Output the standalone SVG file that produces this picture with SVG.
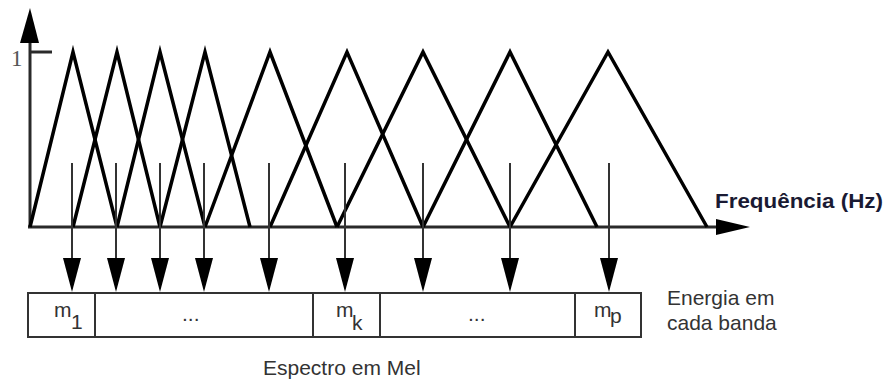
<svg xmlns="http://www.w3.org/2000/svg" width="887" height="382" viewBox="0 0 887 382">
  <style>
    .axis { stroke: #2a2a2a; stroke-width: 3; fill: none; }
    .tri { stroke: #000; stroke-width: 3.5; fill: none; stroke-linejoin: miter; stroke-miterlimit: 10; }
    .arrow { stroke: #333; stroke-width: 2; fill: none; }
    .cell { stroke: #333; stroke-width: 2; fill: #fff; }
    .lbl { font-family: "Liberation Sans", Arial, sans-serif; font-size: 21px; fill: #333; }
    .freq { font-family: "Liberation Sans", Arial, sans-serif; font-size: 21px; font-weight: bold; fill: #1a1a33; }
  </style>
  <defs>
    <marker id="head" markerUnits="userSpaceOnUse" markerWidth="34" markerHeight="18" viewBox="0 0 34 18" refX="0" refY="9" orient="auto">
      <path d="M0,0 L34,9 L0,18 Z" fill="#000"/>
    </marker>
  </defs>

  <rect width="887" height="382" fill="#fff"/>

  <!-- axes -->
  <g id="axes">
    <line class="axis" x1="30" y1="227" x2="30" y2="42"/>
    <polygon points="30,8 39,43 20,43" fill="#000"/>
    <line class="axis" x1="30" y1="52" x2="52" y2="52"/>
    <text x="11" y="66" font-family="'Liberation Serif', 'Times New Roman', serif" font-size="23" fill="#555">1</text>
    <line class="axis" x1="28" y1="227" x2="720" y2="227"/>
    <polygon points="716,219 750,227 716,235" fill="#000"/>
    <text class="freq" x="715" y="208" textLength="168" lengthAdjust="spacingAndGlyphs">Frequência (Hz)</text>
  </g>

  <!-- triangular mel filters -->
  <g id="filters">
    <polyline class="tri" points="30,227 73,52 117,227"/>
    <polyline class="tri" points="73,227 117,52 160,227"/>
    <polyline class="tri" points="117,227 160,52 205,227"/>
    <polyline class="tri" points="160,227 205,52 250,227"/>
    <polyline class="tri" points="205,227 270,52 337,227"/>
    <polyline class="tri" points="270,227 347,52 423,227"/>
    <polyline class="tri" points="337,227 423,52 510,227"/>
    <polyline class="tri" points="423,227 510,52 597,227"/>
    <polyline class="tri" points="510,227 608,52 707,227"/>
  </g>

  <!-- energy arrows from each filter into the band vector -->
  <g id="connectors">
    <line class="arrow" x1="72" y1="163" x2="72" y2="258" marker-end="url(#head)"/>
    <line class="arrow" x1="116" y1="163" x2="116" y2="258" marker-end="url(#head)"/>
    <line class="arrow" x1="160" y1="163" x2="160" y2="258" marker-end="url(#head)"/>
    <line class="arrow" x1="204" y1="163" x2="204" y2="258" marker-end="url(#head)"/>
    <line class="arrow" x1="269" y1="163" x2="269" y2="258" marker-end="url(#head)"/>
    <line class="arrow" x1="345" y1="163" x2="345" y2="258" marker-end="url(#head)"/>
    <line class="arrow" x1="423" y1="163" x2="423" y2="258" marker-end="url(#head)"/>
    <line class="arrow" x1="510" y1="163" x2="510" y2="258" marker-end="url(#head)"/>
    <line class="arrow" x1="609" y1="163" x2="609" y2="258" marker-end="url(#head)"/>
  </g>

  <!-- mel spectrum band cells -->
  <g id="band-m1">
    <rect class="cell" x="28" y="293" width="67" height="44"/>
    <text class="lbl" x="54" y="317">m</text>
    <text class="lbl" x="71" y="329">1</text>
  </g>
  <g id="band-dots1">
    <rect class="cell" x="95" y="293" width="218" height="44"/>
    <text class="lbl" x="182" y="321" font-size="18">...</text>
  </g>
  <g id="band-mk">
    <rect class="cell" x="313" y="293" width="67" height="44"/>
    <text class="lbl" x="336" y="317">m</text>
    <text class="lbl" x="352" y="330">k</text>
  </g>
  <g id="band-dots2">
    <rect class="cell" x="380" y="293" width="195" height="44"/>
    <text class="lbl" x="468" y="321" font-size="18">...</text>
  </g>
  <g id="band-mp">
    <rect class="cell" x="575" y="293" width="66" height="44"/>
    <text class="lbl" x="594" y="317">m</text>
    <text class="lbl" x="610" y="323">p</text>
  </g>

  <!-- captions -->
  <g id="captions">
    <text class="lbl" x="667" y="305">Energia em</text>
    <text class="lbl" x="667" y="330">cada banda</text>
    <text class="lbl" x="263" y="375">Espectro em Mel</text>
  </g>
</svg>
